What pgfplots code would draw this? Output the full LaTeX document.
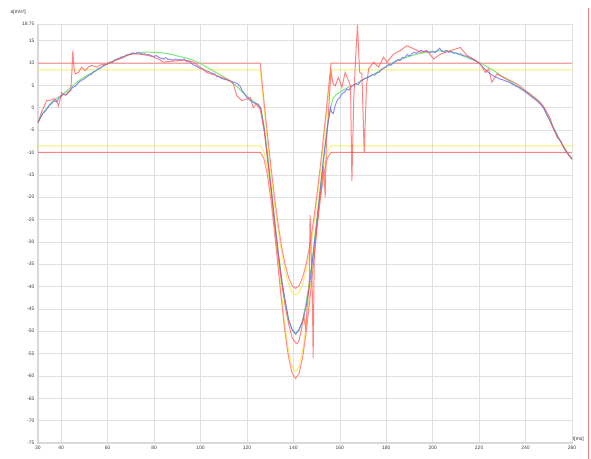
\documentclass[border=0pt]{standalone}
\usepackage{fontspec}
\setmainfont{Liberation Sans}
\usepackage{pgfplots}
\pgfplotsset{compat=1.18}
\definecolor{corrred}{RGB}{255,95,95}
\definecolor{corryel}{RGB}{250,235,70}
\definecolor{sigred}{RGB}{255,80,80}
\definecolor{sigblue}{RGB}{100,100,255}
\definecolor{siggreen}{RGB}{110,230,110}
\begin{document}
\begin{tikzpicture}
\useasboundingbox (-38bp,-16bp) rectangle (553bp,443bp);
\begin{axis}[
  scale only axis, width=534bp, height=419bp,
  xmin=30, xmax=260, ymin=-75, ymax=18.75,
  xtick={30,40,60,80,100,120,140,160,180,200,220,240,260},
  ytick={-75,-70,-65,-60,-55,-50,-45,-40,-35,-30,-25,-20,-15,-10,-5,0,5,10,15,18.75},
  /pgf/number format/assume math mode=true,
  yticklabel style={/pgf/number format/fixed, /pgf/number format/precision=2},
  ticklabel style={font=\fontsize{5}{6}\selectfont, text=black!75},
  major tick length=0pt,
  grid=major, major grid style={black!12, line width=0.6pt},
  axis line style={black!12, line width=0.6pt},
  clip=false,
  every axis plot/.append style={line width=1pt, mark=none},
]
% cursor line
\addplot[corrred, line width=1pt, opacity=0.8] coordinates {(267.1,-78.9) (267.1,22.4)};
% thicker left/bottom axis lines
\addplot[black!15, line width=1.6pt] coordinates {(30,18.75) (30,-75) (260,-75)};
% corridor yellow
\addplot[corryel, opacity=0.8] coordinates {(30,8.5) (125.7,8.5) (127.225,0.62) (128.75,-7.07) (130.275,-14.38) (131.8,-21.13) (133.325,-27.14) (134.85,-32.27) (136.375,-36.41) (137.9,-39.44) (139.425,-41.28) (140.95,-41.9) (142.475,-41.28) (144.0,-39.44) (145.525,-36.41) (147.05,-32.27) (148.575,-27.14) (150.1,-21.13) (151.625,-14.38) (153.15,-7.07) (154.675,0.62) (156.2,8.5) (260,8.5)};
\addplot[corryel, opacity=0.8] coordinates {(30,-8.5) (125.7,-8.5) (127.225,-9.74) (128.75,-13.33) (130.275,-18.93) (131.8,-25.98) (133.325,-33.8) (134.85,-41.62) (136.375,-48.67) (137.9,-54.27) (139.425,-57.86) (140.95,-59.1) (142.475,-57.86) (144.0,-54.27) (145.525,-48.67) (147.05,-41.62) (148.575,-33.8) (150.1,-25.98) (151.625,-18.93) (153.15,-13.33) (154.675,-9.74) (156.2,-8.5) (260,-8.5)};
% corridor red
\addplot[corrred, opacity=0.7] coordinates {(30,10) (125.7,10) (127.225,2.12) (128.75,-5.57) (130.275,-12.88) (131.8,-19.63) (133.325,-25.64) (134.85,-30.77) (136.375,-34.91) (137.9,-37.94) (139.425,-39.78) (140.95,-40.4) (142.475,-39.78) (144.0,-37.94) (145.525,-34.91) (147.05,-30.77) (148.575,-25.64) (150.1,-19.63) (151.625,-12.88) (153.15,-5.57) (154.675,2.12) (156.2,10) (260,10)};
\addplot[corrred, opacity=0.7] coordinates {(30,-10) (125.7,-10) (127.225,-11.24) (128.75,-14.83) (130.275,-20.43) (131.8,-27.48) (133.325,-35.3) (134.85,-43.12) (136.375,-50.17) (137.9,-55.77) (139.425,-59.36) (140.95,-60.6) (142.475,-59.36) (144.0,-55.77) (145.525,-50.17) (147.05,-43.12) (148.575,-35.3) (150.1,-27.48) (151.625,-20.43) (153.15,-14.83) (154.675,-11.24) (156.2,-10) (260,-10)};
% green reference
\addplot[siggreen, opacity=0.9] coordinates {(30,-3.3) (32,-1.3) (34,0.1) (36,1.3) (38,2.1) (40,2.8) (42,3.6) (44,4.5) (46,5.4) (48,6.2) (50,6.9) (52,7.5) (54,8.0) (56,8.6) (58,9.3) (60,9.9) (62,10.4) (64,10.9) (66,11.3) (68,11.7) (70,12.0) (72,12.2) (74,12.35) (76,12.45) (78,12.45) (80,12.4) (82,12.35) (84,12.25) (86,12.1) (88,11.9) (90,11.6) (92,11.35) (94,11.1) (96,10.8) (98,10.4) (100,9.9) (102,9.3) (104,8.7) (106,8.1) (108,7.5) (110,6.9) (112,6.3) (114,5.5) (116,4.6) (118,3.5) (120,2.6) (122,1.8) (124,1.0) (126,0) (127.5,-4.54) (129,-11.0) (130.5,-18.13) (132,-25.36) (133.5,-32.25) (135,-38.41) (136.5,-43.55) (138,-47.41) (139.5,-49.79) (141,-50.6) (142.5,-49.79) (144,-47.41) (145.5,-43.55) (147,-38.41) (148.5,-32.25) (150,-25.36) (151.5,-18.13) (153,-11.0) (154.5,-4.54) (156,0) (157,2.0) (158.5,3.0) (161,3.8) (164,4.7) (167,5.4) (170,6.3) (173,7.1) (176,7.9) (179,8.9) (182,9.8) (185,10.6) (188,11.2) (191,11.7) (194,12.1) (197,12.4) (200,12.6) (203,12.75) (206,12.75) (209,12.4) (212,11.8) (215,11.2) (218,10.6) (221,9.9) (224,9.0) (227,8.1) (230,7.0) (233,6.0) (236,5.0) (239,4.0) (242,3.1) (244,2.3) (246,1.3) (247.7,0.1) (250,-2.3) (252,-4.4) (254,-6.4) (256,-8.4) (258,-10.0) (260,-11.5)};
% blue measurement
\addplot[sigblue, opacity=0.75] coordinates {(30,-3.3) (31,-2.2) (32,-1.3) (33,-0.8) (34,-0.2) (35,0.6) (36,1.0) (37,1.6) (38,1.3) (39,2.2) (40,2.6) (41,3.0) (42,2.8) (43,3.6) (44,4.0) (45,4.6) (46,4.8) (47,5.4) (48,5.9) (49,6.2) (50,6.5) (51,6.9) (52,7.3) (53,7.5) (54,8.1) (55,8.3) (56,8.8) (57,8.9) (58,9.4) (59,9.6) (60,9.8) (61,10.2) (62,10.1) (63,10.6) (64,10.9) (65,11.0) (66,11.4) (67,11.3) (68,11.8) (69,11.9) (70,12.1) (71,12.3) (72,12.1) (73,12.4) (74,12.2) (75,12.0) (76,12.1) (77,11.8) (78,11.9) (79,11.6) (80,11.5) (81,11.7) (82,11.3) (83,11.1) (84,10.9) (85,11.2) (86,10.8) (87,10.9) (88,10.6) (89,10.9) (90,10.7) (91,10.8) (92,10.6) (93,10.9) (94,10.3) (95,10.4) (96,10.0) (97,9.6) (98,9.4) (99,9.0) (100,8.8) (101,8.7) (102,8.3) (103,8.2) (104,8.0) (105,7.7) (106,7.6) (107,7.0) (108,6.9) (109,6.6) (110,6.4) (111,6.3) (112,6.1) (113,6.0) (114,5.8) (115,5.6) (116,5.4) (117,4.8) (118,3.8) (119,3.1) (120,2.3) (121,1.8) (122,1.4) (123,1.1) (124,0.9) (125,0.8) (126,-0.3) (127.5,-5.0) (129,-12.0) (130.5,-18.5) (132,-25.8) (133.5,-32.5) (135,-38.8) (136.5,-43.2) (138,-47.6) (139.5,-49.6) (141,-50.6) (142.5,-49.5) (144,-47.8) (145.5,-44.5) (147,-39.5) (148.5,-33.0) (150,-26.0) (151.5,-18.8) (153,-11.5) (154.5,-5.0) (155.5,-1.5) (156,0) (156.5,-1.0) (157.2,-1.3) (158,0.5) (159,1.8) (160,2.3) (161,3.2) (162,3.5) (163,4.2) (164,4.0) (165,4.8) (166,5.0) (167,5.4) (168,5.2) (169,6.0) (170,6.3) (171,6.6) (172,6.8) (173,7.0) (174,7.4) (175,7.3) (176,7.8) (177,8.0) (178,8.6) (179,8.9) (180,9.2) (181,9.7) (182,9.5) (183,10.1) (184,10.4) (185,10.8) (186,10.6) (187,11.3) (188,11.2) (189,11.9) (190,11.6) (191,12.1) (192,12.4) (193,12.2) (194,12.6) (195,12.9) (196,12.5) (197,12.7) (198,12.5) (199,12.4) (200,12.6) (201,12.3) (202,12.8) (203,13.3) (204,12.6) (205,12.5) (206,12.8) (207,12.4) (208,12.6) (209,12.2) (210,12.3) (211,12.0) (212,12.1) (213,11.7) (214,11.6) (215,11.5) (216,11.2) (217,10.9) (218,10.6) (219,10.3) (220,10.0) (221,9.4) (222,8.9) (223,8.4) (224,7.9) (225,7.5) (226,7.2) (227,6.9) (228,6.7) (229,6.4) (230,6.3) (231,6.1) (232,5.9) (233,5.7) (234,5.4) (235,5.1) (236,4.8) (237,4.6) (238,4.2) (239,3.9) (240,3.5) (241,3.1) (242,2.7) (243,2.3) (244,1.9) (245,1.5) (246,1.0) (247,0.5) (248,-0.3) (249,-1.5) (250,-2.4) (251,-3.6) (252,-4.6) (253,-5.5) (254,-6.7) (255,-7.5) (256,-8.4) (257,-9.3) (258,-10.1) (259,-10.8) (260,-11.5)};
% red measurement
\addplot[sigred, opacity=0.7] coordinates {(30,-3.3) (31.5,-1.0) (33.7,1.6) (35.2,1.7) (37,2.0) (38,1.6) (38.8,0.4) (40.2,3.4) (41,3.0) (42.4,3.1) (44.1,3.8) (44.6,8.0) (45,12.8) (45.5,9.0) (46,7.6) (47.4,7.9) (48.8,9.1) (50.3,8.3) (51.7,9.1) (53,9.5) (55.3,9.1) (57,9.6) (59.6,9.8) (61.5,10.2) (63.9,10.7) (66,11.1) (68.2,11.7) (71,12.1) (73,12.0) (75.4,11.9) (77.5,11.7) (79.7,11.4) (82.6,10.7) (84,10.2) (86.9,10.4) (89.8,10.5) (92.6,10.7) (95,10.5) (97,10.2) (99.8,9.1) (102.7,7.9) (105,7.5) (107,7.2) (109,6.8) (111.3,6.4) (113,5.9) (114.2,5.3) (115.6,2.7) (117.8,1.6) (120,2.0) (121.4,2.3) (122.7,0.1) (124,0.8) (125.7,-0.3) (127.5,-5.5) (129,-12.0) (130.5,-19.0) (132,-26.5) (133.5,-33.5) (135,-39.5) (136.5,-44.5) (138,-48.5) (139.5,-51.5) (141,-52.6) (141.6,-52.8) (142.5,-52.0) (143.5,-49.5) (144.5,-46.5) (145.3,-49.5) (146,-44.0) (146.8,-40.0) (147.2,-24.0) (147.6,-31.0) (148.2,-42.6) (148.5,-56.0) (149,-33.0) (150,-27.0) (151,-22.0) (152,-18.0) (153,-13.0) (153.7,-20.0) (154.2,-8.0) (155,-2.0) (156.2,8.3) (157,5.5) (158,4.9) (159.4,6.8) (160.9,4.6) (162.3,7.9) (163.7,6.1) (164.6,5.0) (165.2,-16.4) (166,2.0) (166.7,10.0) (167.6,18.6) (168.5,8.0) (169.5,7.6) (170.5,-10.0) (171.5,5.0) (172.4,8.7) (174.5,10.2) (176.7,9.1) (178.8,11.3) (180.3,10.2) (183.1,12.0) (186,12.8) (188.9,13.9) (191.8,13.2) (194.7,12.4) (197.5,12.8) (200.4,10.9) (203.3,12.0) (207.6,12.8) (211.9,13.5) (214.8,11.7) (217.6,10.9) (220.5,9.8) (222.7,7.9) (224.1,8.7) (225.5,5.7) (227.7,7.6) (230.5,6.8) (233.4,6.1) (236.3,5.3) (239.2,4.2) (243.5,2.3) (246.4,1.2) (248.5,-0.3) (250.7,-2.5) (252,-4.7) (253.6,-6.6) (255,-7.3) (256.4,-8.9) (258,-10.2) (260,-11.5)};
\node[font=\fontsize{5}{6}\selectfont, text=black!80] at (axis description cs:-0.037,1.029) {a[m/s²]};
\node[font=\fontsize{5}{6}\selectfont, text=black!80] at (axis description cs:1.012,0.008) {t[ms]};
\end{axis}
\end{tikzpicture}
\end{document}
